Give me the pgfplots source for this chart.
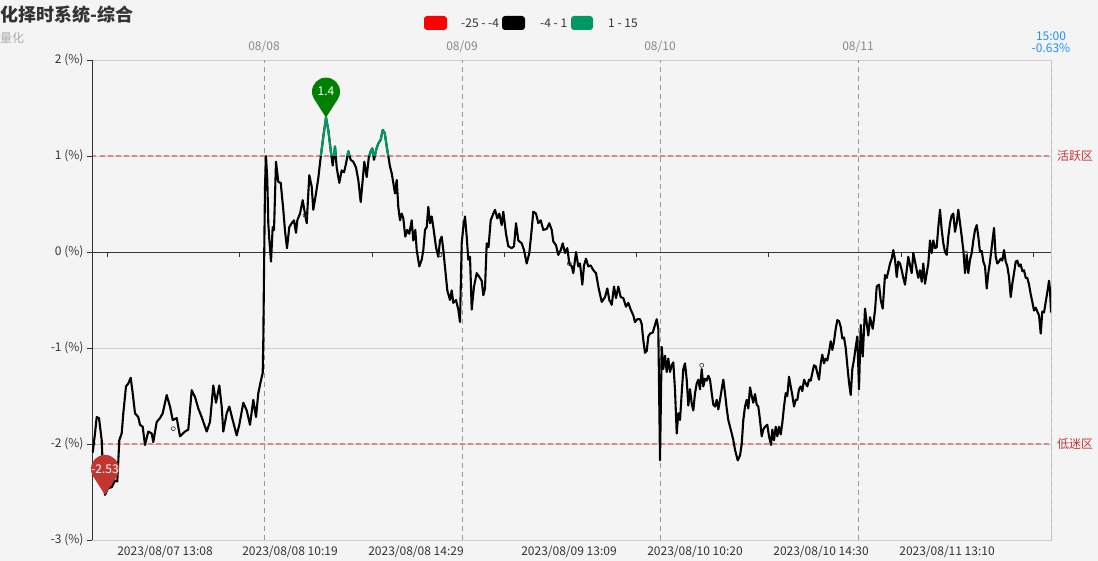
\documentclass[border=0pt]{standalone}
\usepackage{pgfplots}
\pgfplotsset{compat=1.18}
\usepackage{pgfplotstable}
\usepackage{fontspec}
\setmainfont{Noto Sans CJK SC}

\definecolor{bg}{HTML}{F4F4F4}
\definecolor{gridc}{HTML}{CCCCCC}
\definecolor{txt}{HTML}{333333}
\definecolor{subtxt}{HTML}{AAAAAA}
\definecolor{toptxt}{HTML}{888888}
\definecolor{vline}{HTML}{999999}
\definecolor{zonered}{HTML}{DC8888}
\definecolor{zonetxt}{HTML}{C23531}
\definecolor{pinred}{HTML}{C23531}
\definecolor{pingreen}{HTML}{008000}
\definecolor{lgreen}{HTML}{009966}
\definecolor{lred}{HTML}{FF0000}
\definecolor{nowblue}{HTML}{1E90FF}

% balloon marker (tip on the data point)
\pgfdeclareplotmark{pin}{%
  \pgfpathcircle{\pgfpoint{0bp}{26bp}}{14bp}%
  \pgfpathmoveto{\pgfpoint{0bp}{0bp}}%
  \pgfpathlineto{\pgfpoint{11.8bp}{18.5bp}}%
  \pgfpathlineto{\pgfpoint{-11.8bp}{18.5bp}}%
  \pgfpathclose
  \pgfusepath{fill}%
}

% x = position along the session axis, y = value in %
\pgfplotstableread{
x y
92.7 -2.09
95 -1.89
96.7 -1.72
99 -1.73
101.7 -1.96
103 -2.30
105 -2.53
108 -2.46
111.7 -2.45
115 -2.38
117.3 -2.39
119.3 -1.96
121.7 -1.89
123.3 -1.68
126 -1.40
128.3 -1.37
130.7 -1.31
132.7 -1.47
135 -1.68
138.3 -1.72
140 -1.80
142.7 -1.82
145 -2.01
148.3 -1.87
151.7 -1.89
153.3 -1.98
156.7 -1.77
160 -1.73
162.7 -1.68
166.7 -1.49
170 -1.61
172.7 -1.75
176.7 -1.73
180 -1.92
185 -1.87
188.3 -1.85
191.7 -1.44
195 -1.51
198.3 -1.63
201.7 -1.72
205 -1.82
206.7 -1.87
210 -1.77
213.3 -1.39
216 -1.57
219.3 -1.39
221.7 -1.61
223.3 -1.87
226.7 -1.68
229.3 -1.61
232.7 -1.75
236.7 -1.91
239.3 -1.80
243.3 -1.57
246.7 -1.65
250 -1.80
253.3 -1.54
256 -1.72
258.3 -1.47
260.7 -1.35
262.7 -1.26
263.3 -0.92
264 -0.22
265 0.68
266 1.00
267.3 0.75
268.3 0.30
269.3 0.13
271 -0.10
272.7 0.26
274 0.23
276 0.94
278.3 0.73
280.7 0.72
283.3 0.44
285 0.22
287 0.04
289.3 0.26
291.7 0.30
294 0.33
296 0.20
297.3 0.33
300 0.40
302.7 0.54
304.3 0.44
306.7 0.30
309.3 0.80
311.7 0.68
313.3 0.44
316 0.61
318.3 0.77
320.7 0.99
323.3 1.20
326 1.40
328.3 1.27
330.7 1.06
332.7 0.90
335 1.10
336.7 0.88
339.3 0.72
341.7 0.85
344 0.83
346 0.92
348.3 1.05
350.7 0.96
353.3 0.94
356 0.88
358.3 0.75
360.7 0.52
362.7 0.75
364.3 0.94
366.7 0.78
368.7 0.98
370.7 1.05
372.3 1.08
374 0.96
376 1.06
378.3 1.13
380.7 1.17
382.7 1.27
384.7 1.24
386.7 1.10
388.3 1.00
390 0.89
391.7 0.82
393.3 0.72
395 0.61
396.7 0.75
398.3 0.47
400 0.33
401.7 0.40
403.3 0.35
405.3 0.16
407.3 0.23
409.3 0.19
411.7 0.33
413.3 0.12
415.3 0.23
416.7 0.02
419.3 -0.15
421.7 -0.08
423.3 0.02
425 0.23
426.7 0.26
428.3 0.47
430 0.30
431.7 0.37
433.3 0.26
436 0.05
438.3 -0.05
440 0.12
441.7 0.16
443.3 0.02
445.3 -0.19
447.3 -0.40
450 -0.50
451.7 -0.40
453.3 -0.53
456 -0.50
458.3 -0.60
460 -0.73
461.7 0.09
463.3 0.26
465 0.37
466.7 0.16
468.3 -0.08
470 -0.05
471.7 -0.60
474 -0.36
476.7 -0.22
479.3 -0.26
481.7 -0.30
483.3 -0.45
485 -0.38
486.7 0.09
488.5 0.05
490.7 0.33
493.3 0.40
495 0.44
497.3 0.35
499.3 0.40
501.7 0.28
503.3 0.42
506 0.19
508.3 0.06
511.7 0.04
514 0.06
516 0.30
518.3 0.12
521.7 0.09
524 0.02
526.7 -0.12
529.3 -0.01
531 0.16
533.3 0.42
536 0.40
538.3 0.30
540.7 0.33
543.3 0.23
546.7 0.24
549.3 0.30
551.7 0.23
553.3 0.11
556 0.07
558.3 -0.03
560.7 0.02
562.7 0.09
565 -0.01
567.3 0.04
569.3 -0.12
571.7 -0.15
573.3 -0.22
576 0.00
578.3 -0.15
580 -0.12
582.3 -0.34
584 -0.14
586 -0.07
588.3 -0.15
590.7 -0.14
593.3 -0.19
596 -0.22
598.3 -0.36
601.7 -0.52
605 -0.47
607.3 -0.38
609.3 -0.50
611.7 -0.55
614 -0.36
616 -0.48
618.3 -0.36
620.7 -0.47
623.3 -0.48
626 -0.57
628.3 -0.53
630.7 -0.60
633.3 -0.66
635 -0.73
637.3 -0.70
640 -0.70
641.7 -0.75
643.3 -0.92
645 -1.05
646.7 -1.03
648.3 -0.88
650 -0.85
652.7 -0.84
655 -0.76
656.7 -0.70
658.3 -0.80
660 -2.17
661.7 -0.99
663.3 -1.22
665 -1.08
666.7 -1.25
668.3 -1.11
670 -1.25
671.7 -1.18
673.3 -1.15
675 -1.44
676.7 -1.89
678.3 -1.68
680 -1.75
681.7 -1.47
683.3 -1.22
685 -1.16
686.7 -1.33
688.3 -1.60
690 -1.43
691.7 -1.58
693.3 -1.65
695 -1.47
696.7 -1.37
698.3 -1.33
700 -1.43
701.7 -1.22
703.3 -1.40
705 -1.32
706.7 -1.34
708.3 -1.29
710 -1.33
711.7 -1.47
713.3 -1.59
715 -1.61
716.7 -1.54
718.3 -1.64
720 -1.54
721.7 -1.43
723.3 -1.33
725 -1.47
726.7 -1.63
728.3 -1.75
730 -1.82
731.7 -1.89
733.3 -1.96
735 -2.06
737.7 -2.17
740 -2.12
741.7 -2.00
743.3 -1.75
745 -1.61
746.7 -1.54
748.3 -1.63
750 -1.41
751.7 -1.50
753.3 -1.57
755 -1.48
756.7 -1.59
758.3 -1.61
760 -1.75
761.7 -1.92
763.3 -1.85
765 -1.82
767.3 -1.80
769 -1.92
771 -2.01
772.3 -1.85
774 -1.96
775.7 -1.82
777.3 -1.92
779 -1.82
780.7 -1.90
782.3 -1.78
784 -1.61
785.7 -1.47
787.3 -1.50
789 -1.30
790.7 -1.40
792.3 -1.49
794 -1.61
795.7 -1.54
797.3 -1.54
799 -1.43
800.7 -1.40
802.3 -1.45
804 -1.33
805.7 -1.37
807.3 -1.40
809 -1.33
810.7 -1.34
812.3 -1.26
814 -1.18
815.7 -1.19
817.3 -1.26
819 -1.33
820.7 -1.16
822.3 -1.07
824 -1.16
825.7 -1.11
827.3 -1.13
829 -1.04
830.7 -0.93
832.3 -1.02
834 -0.93
835.7 -0.80
837.3 -0.71
839 -0.72
840.7 -0.78
842.3 -0.90
844 -0.89
845.7 -1.00
847.3 -1.18
849 -1.36
850.7 -1.49
852.3 -1.22
854 -1.12
855.7 -0.99
857.3 -0.88
859 -1.43
860.7 -0.76
862.7 -1.09
865 -0.59
866.7 -0.74
868.3 -0.87
870 -0.68
872.7 -0.80
875 -0.61
876.7 -0.36
879 -0.34
880.7 -0.50
882.7 -0.59
885 -0.24
886.7 -0.27
888.3 -0.20
890 -0.12
891.7 -0.07
893.3 0.02
895 -0.08
896.7 -0.26
898.3 -0.10
900 -0.12
901.7 -0.19
903.3 -0.27
905 -0.34
906.7 -0.19
908.3 -0.05
910 -0.14
911.7 -0.22
913.3 -0.01
915 -0.10
916.7 -0.19
918.3 -0.27
920 -0.19
921.7 -0.31
923.3 -0.12
925 -0.33
926.7 -0.22
928.3 -0.12
930 0.12
931.7 -0.01
933.3 0.12
935 0.04
936.7 0.05
938.3 0.26
940 0.44
941.7 0.23
943.3 0.09
945 0.00
946.7 -0.03
948.3 0.16
950 0.30
951.7 0.38
953.3 0.40
955 0.21
956.7 0.30
958.3 0.44
960 0.30
961.7 0.16
963.3 0.02
965 -0.22
966.7 -0.03
968.3 -0.22
970 -0.08
971.7 -0.01
973.3 0.12
975 0.23
976.7 0.28
978.3 0.16
980 0.00
981.7 0.01
983.3 -0.10
985 -0.15
986.7 -0.38
988.3 -0.22
990 -0.10
991.7 0.05
994 0.25
995.7 -0.05
997.3 -0.12
999 -0.10
1000.7 -0.07
1002.3 -0.09
1004 0.02
1005.7 -0.10
1007.3 -0.15
1009 -0.26
1010.7 -0.47
1012.3 -0.33
1014 -0.22
1015.7 -0.10
1017.3 -0.09
1019 -0.15
1020.7 -0.13
1022.3 -0.20
1024 -0.19
1025.7 -0.27
1027.3 -0.27
1029 -0.34
1030.7 -0.44
1032.3 -0.52
1034 -0.61
1035.7 -0.58
1037.3 -0.62
1039 -0.66
1040.7 -0.85
1042.3 -0.62
1044 -0.63
1045.7 -0.52
1047.3 -0.42
1049 -0.30
1050 -0.40
1051 -0.63
}\series

\begin{document}
\begin{tikzpicture}[font=\fontsize{12bp}{14bp}\selectfont]
% pixel frame: (px,py) with origin top-left of the 1098x561 picture
\begin{scope}[x=1bp,y=-1bp,shift={(-92bp,540bp)}]
  \fill[bg] (0,0) rectangle (1098,561);
\end{scope}

\begin{axis}[
    at={(0,0)}, anchor=south west,
    scale only axis,
    width=959bp, height=480bp,
    xmin=92, xmax=1051,
    ymin=-3, ymax=2,
    axis line style={draw=gridc},
    ytick={-3,-2,-1,0,1,2},
    yticklabels={-3 (\%),-2 (\%),-1 (\%),0 (\%),1 (\%),2 (\%)},
    ytick pos=left,
    tick align=outside,
    major tick length=5bp,
    y tick style={draw=txt, line width=0.8bp},
    yticklabel style={text=txt},
    ymajorgrids,
    major grid style={draw=gridc, line width=0.8bp},
    xtick={165,290,416,569,695,821,947},
    xticklabels={2023/08/07 13:08,2023/08/08 10:19,2023/08/08 14:29,2023/08/09 13:09,2023/08/10 10:20,2023/08/10 14:30,2023/08/11 13:10},
    xtick pos=bottom,
    x tick style={draw=none},
    xticklabel style={text=txt, yshift=3bp},
    line join=round,
]
% day separators and reference lines
\pgfplotsinvokeforeach{264,462,660,858}{
  \draw[vline, line width=0.8bp, dash pattern=on 5bp off 4bp] (axis cs:#1,-3) -- (axis cs:#1,2);
}
\draw[nowblue, line width=0.8bp, dash pattern=on 5bp off 4bp] (axis cs:1051,-3) -- (axis cs:1051,2);
\draw[zonered, line width=1.6bp, dash pattern=on 4.5bp off 3.5bp] (axis cs:92,1) -- (axis cs:1051,1);
\draw[zonered, line width=1.6bp, dash pattern=on 4.5bp off 3.5bp] (axis cs:92,-2) -- (axis cs:1051,-2);
\draw[txt, line width=0.8bp] (axis cs:92,0) -- (axis cs:1051,0);
\draw[txt, line width=0.8bp] (axis cs:92,-3) -- (axis cs:92,2);
\pgfplotsinvokeforeach{107.3,239.6,371.9,504.2,636.5,768.8,901.1,1033.4}{
  \draw[txt, line width=0.8bp] (axis cs:#1,0) -- ([yshift=-5bp]axis cs:#1,0);
}

% series, black for -4..1
\addplot[black, line width=2.1bp] table {\series};
% same series, green where above 1
\begin{scope}
  \clip (axis cs:92,1) rectangle (axis cs:1051,2.5);
  \addplot[lgreen, line width=2.1bp] table {\series};
\end{scope}

% small hollow event markers
\addplot[only marks, mark=o, mark size=2bp, mark options={draw=txt, fill=white, line width=0.6bp}]
  coordinates {(173.3,-1.84) (305,0.38) (440,-0.03) (569.3,-0.12) (701.7,-1.18) (965.7,-0.01)};

% max / min balloons
\addplot[only marks, mark=pin, mark options={fill=pingreen, draw=none},
  point meta=explicit symbolic, nodes near coords,
  every node near coord/.style={anchor=center, yshift=26bp, text=white}]
  coordinates {(326,1.40) [1.4]};
\addplot[only marks, mark=pin, mark options={fill=pinred, draw=none},
  point meta=explicit symbolic, nodes near coords,
  every node near coord/.style={anchor=center, yshift=26bp, text=white}]
  coordinates {(105,-2.53) [-2.53]};
\end{axis}

\begin{scope}[x=1bp,y=-1bp,shift={(-92bp,540bp)}]
  % title
  \node[anchor=west, inner sep=0, text=txt, font=\fontsize{18bp}{21bp}\selectfont\bfseries] at (0,15) {化择时系统-综合};
  \node[anchor=west, inner sep=0, text=subtxt] at (0,38) {量化};
  % legend
  \fill[lred, rounded corners=3bp] (424,16) rectangle (447,30);
  \node[anchor=west, inner sep=0, text=txt] at (461,23) {-25 - -4};
  \fill[black, rounded corners=3bp] (502,16) rectangle (525,30);
  \node[anchor=west, inner sep=0, text=txt] at (540,23) {-4 - 1};
  \fill[lgreen, rounded corners=3bp] (571,16) rectangle (593,30);
  \node[anchor=west, inner sep=0, text=txt] at (608,23) {1 - 15};
  % day labels
  \node[text=toptxt] at (264,47) {08/08};
  \node[text=toptxt] at (462,47) {08/09};
  \node[text=toptxt] at (660,47) {08/10};
  \node[text=toptxt] at (858,47) {08/11};
  \node[text=nowblue, inner sep=0] at (1051,36) {15:00};
  \node[text=nowblue, inner sep=0] at (1051,48) {-0.63\%};
  % zone labels
  \node[anchor=west, inner sep=0, text=zonetxt] at (1057,156) {活跃区};
  \node[anchor=west, inner sep=0, text=zonetxt] at (1057,444) {低迷区};
\end{scope}

\pgfresetboundingbox
\begin{scope}[x=1bp,y=-1bp,shift={(-92bp,540bp)}]
  \path (0,0) rectangle (1098,561);
\end{scope}
\end{tikzpicture}
\end{document}
